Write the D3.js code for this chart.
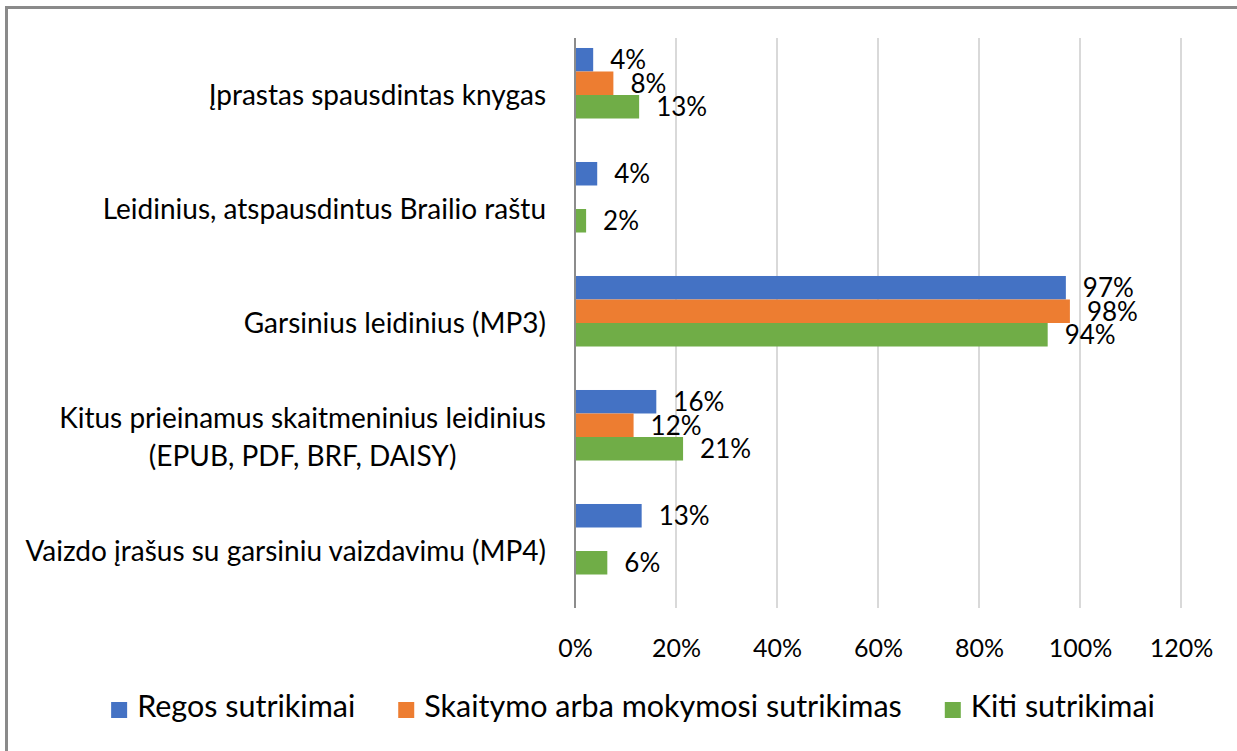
<!DOCTYPE html>
<html>
<head>
<meta charset="utf-8">
<script src="https://cdn.jsdelivr.net/npm/d3@7"></script>
<style>
  body { margin: 0; background: #fff; }
  text { font-family: Lato, "Open Sans", sans-serif; fill: #000; }
</style>
</head>
<body>
<div id="chart"></div>
<script>
const categories = [
  ["Įprastas spausdintas knygas"],
  ["Leidinius, atspausdintus Brailio raštu"],
  ["Garsinius leidinius (MP3)"],
  ["Kitus prieinamus skaitmeninius leidinius", "(EPUB, PDF, BRF, DAISY)"],
  ["Vaizdo įrašus su garsiniu vaizdavimu (MP4)"]
];
const seriesNames = ["Regos sutrikimai", "Skaitymo arba mokymosi sutrikimas", "Kiti sutrikimai"];
const seriesColors = ["#4472c4", "#ed7d31", "#70ad47"];
const regos = [3.6, 4.4, 97.2, 16.1, 13.2];
const skaitymo = [7.6, null, 98.0, 11.6, null];
const kiti = [12.7, 2.2, 93.6, 21.4, 6.4];
const xTicks = [0, 20, 40, 60, 80, 100, 120];

const width = 1237, height = 751;
const series = [regos, skaitymo, kiti];

const svg = d3.select("#chart")
  .append("svg")
  .attr("width", width)
  .attr("height", height);

svg.append("rect").attr("width", width).attr("height", height).attr("fill", "#fff");

// frame (only top and left show in the crop)
svg.append("path")
  .attr("d", `M6.5,${height} V7.5 H${width}`)
  .attr("fill", "none")
  .attr("stroke", "#8a8a8a")
  .attr("stroke-width", 3);

const x = d3.scaleLinear().domain([0, 120]).range([575, 1181]);
const y = d3.scaleBand().domain(d3.range(categories.length)).range([38, 608]);
// 4 slots per group, last one empty
const slot = d3.scaleBand().domain([0, 1, 2, 3]).range([0, y.bandwidth()]).paddingOuter(0.425);

// gridlines
svg.append("g")
  .selectAll("line")
  .data(xTicks.slice(1))
  .join("line")
  .attr("x1", d => x(d)).attr("x2", d => x(d))
  .attr("y1", 38).attr("y2", 608)
  .attr("stroke", "#d9d9d9")
  .attr("stroke-width", 2);

// x tick labels
const xAxis = svg.append("g")
  .attr("transform", "translate(0,608)")
  .call(d3.axisBottom(x).tickValues(xTicks).tickFormat(d => d + "%").tickSize(0).tickPadding(31));
xAxis.select(".domain").remove();
xAxis.selectAll("text").style("font-size", "25px").style("font-family", "Lato");

// bars
const barData = [];
series.forEach((vals, s) => vals.forEach((v, i) => {
  if (v != null) barData.push({ s, i, v });
}));

svg.append("g")
  .selectAll("rect")
  .data(barData)
  .join("rect")
  .attr("x", x(0))
  .attr("y", d => y(d.i) + slot(d.s))
  .attr("width", d => x(d.v) - x(0))
  .attr("height", slot.bandwidth())
  .attr("fill", d => seriesColors[d.s]);

// value axis line at 0
svg.append("line")
  .attr("x1", x(0)).attr("x2", x(0))
  .attr("y1", 38).attr("y2", 608)
  .attr("stroke", "#8c8c8c")
  .attr("stroke-width", 2);

// data labels
svg.append("g")
  .selectAll("text")
  .data(barData)
  .join("text")
  .attr("x", d => x(d.v) + 17)
  .attr("y", d => y(d.i) + slot(d.s) + slot.bandwidth() / 2 + 3)
  .attr("dominant-baseline", "middle")
  .style("font-size", "26px")
  .text(d => Math.round(d.v) + "%");

// category labels
const catG = svg.append("g")
  .selectAll("g")
  .data(categories)
  .join("g")
  .attr("transform", (d, i) => `translate(546,${y(i) + y.bandwidth() / 2})`);

catG.each(function(lines) {
  const g = d3.select(this);
  const t = g.append("text")
    .attr("text-anchor", "middle")
    .style("font-size", "28px");
  t.selectAll("tspan")
    .data(lines)
    .join("tspan")
    .attr("x", 0)
    .attr("y", (d, k) => (k - (lines.length - 1) / 2) * 38)
    .attr("dy", "0.35em")
    .text(d => d);
  const w = t.node().getBBox().width;
  t.attr("transform", `translate(${-w / 2},0)`);
});

// legend
const legend = svg.append("g");
let lx = 0;
const items = legend.selectAll("g")
  .data(seriesNames)
  .join("g");
items.append("rect")
  .attr("y", -7)
  .attr("width", 16).attr("height", 16)
  .attr("fill", (d, i) => seriesColors[i]);
items.append("text")
  .attr("x", 26)
  .attr("y", 8)
  .style("font-size", "30.5px")
  .text(d => d);
items.each(function() {
  const g = d3.select(this);
  const w = g.select("text").node().getComputedTextLength();
  g.attr("transform", `translate(${lx},0)`);
  lx += 26 + w + 43;
});
lx -= 43;
legend.attr("transform", `translate(${633 - lx / 2},709)`);
</script>
</body>
</html>
